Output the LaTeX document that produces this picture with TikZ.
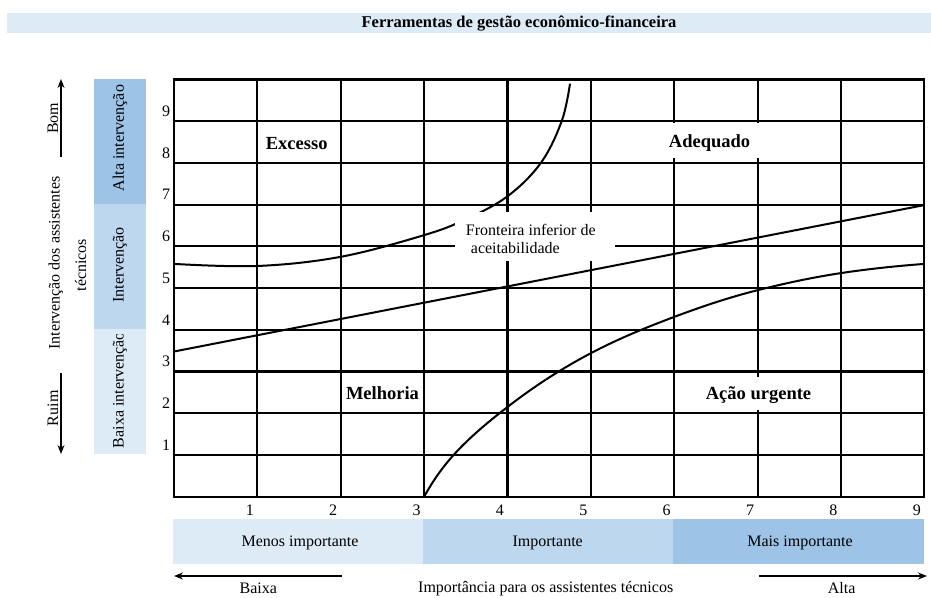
\documentclass[tikz,border=0pt]{standalone}
\usepackage{fontspec}
\setmainfont{Liberation Serif}
\usetikzlibrary{arrows.meta}
\definecolor{blueA}{HTML}{DDEBF7}
\definecolor{blueB}{HTML}{BDD7EE}
\definecolor{blueC}{HTML}{9DC3E6}
\begin{document}
\begin{tikzpicture}[x=1pt,y=-1pt,
  txt/.style={font=\fontsize{16}{19}\selectfont, inner sep=0pt},
  lbl/.style={font=\fontsize{18.5}{22}\selectfont\bfseries, inner sep=0pt},
  gridline/.style={line width=2.1pt},
  curveline/.style={line width=2pt},
  arr/.style={line width=1.1pt, -{Stealth[length=9pt,width=7pt]}}]
\useasboundingbox (0,0) rectangle (931,597);
% title
\fill[blueA] (7,13) rectangle (931,33);
\node[txt, font=\fontsize{16.5}{19}\selectfont\bfseries] (title) at (519,23.5) {Ferramentas de gestão econômico-financeira};
% grid
\foreach \i in {1,...,8} \draw[gridline] ({174+83.37*\i},79.5) -- ({174+83.37*\i},496.7);
\foreach \j in {1,...,9} \draw[gridline] (174,{79.5+41.72*\j}) -- (924.3,{79.5+41.72*\j});
\draw[gridline, line join=miter] (174,79.5) rectangle (924.3,496.7);
% curves
\begin{scope}[shift={(174,496.7)}, x=83.37pt, y=41.72pt]
  \draw[curveline] plot[smooth, tension=0.6] coordinates {(0,5.58) (1,5.53) (2,5.75) (3,6.27) (3.5,6.65) (4,7.2) (4.4,8.0) (4.65,9.0) (4.75,9.9)};
  \draw[curveline] (0,3.48) -- (9,6.99);
  \draw[curveline] (3,0) .. controls (3.133,0.48) and (3.267,0.82) .. (3.4,1.1)
    .. controls (3.6,1.52) and (3.8,1.84) .. (4,2.15)
    .. controls (4.333,2.667) and (4.667,3.09) .. (5,3.44)
    .. controls (5.333,3.79) and (5.667,4.06) .. (6,4.31)
    .. controls (6.333,4.56) and (6.667,4.783) .. (7,4.95)
    .. controls (7.333,5.117) and (7.667,5.26) .. (8,5.36)
    .. controls (8.333,5.46) and (8.667,5.53) .. (9,5.58);
\end{scope}
% white label boxes
\fill[white] (455,212) rectangle (615,261);
\fill[white] (664,123) rectangle (764,158);
\fill[white] (700,377) rectangle (816,410);
\node[txt, anchor=west] (front1) at (465.7,230) {Fronteira inferior de};
\node[txt, anchor=west] (front2) at (470.7,248.3) {aceitabilidade};
\node[lbl] (excesso) at (296.7,143.3) {Excesso};
\node[lbl] (adequado) at (709.5,143.3) {Adequado};
\node[lbl] (melhoria) at (382.5,392.7) {Melhoria};
\node[lbl] (acao) at (758.5,395) {Ação urgente};
% axis numbers
\foreach \k in {1,...,9} {
  \node[txt] (y\k) at (166,{496.7-41.72*\k-10}) {\k};
  \node[txt] (x\k) at ({174+83.37*\k-7.5},510) {\k};
}
% left bars
\fill[blueC] (94.3,79) rectangle (145.7,204);
\fill[blueB] (94.3,204) rectangle (145.7,329);
\fill[blueA] (94.3,329) rectangle (145.7,454);
\node[txt, rotate=90] (alta) at (120,138) {Alta intervenção};
\node[txt, rotate=90] (interv) at (120,265) {Intervenção};
\begin{scope}
  \clip (94.3,334) rectangle (145.7,454);
  \node[txt, rotate=90, anchor=west] (baixaint) at (120,448.3) {Baixa intervenção};
\end{scope}
% far left axis
\coordinate (bomtop) at (61,79);
\coordinate (bombot) at (61,157);
\coordinate (ruimtop) at (61,373);
\coordinate (ruimbot) at (61,454);
\draw[arr] (bombot) -- (bomtop);
\draw[arr] (ruimtop) -- (ruimbot);
\node[txt, rotate=90, anchor=base] (bom) at (58,118.3) {Bom};
\node[txt, rotate=90, anchor=base] (ruim) at (58,408.3) {Ruim};
\node[txt, rotate=90, anchor=base] (ylab1) at (59.5,263) {Intervenção dos assistentes};
\node[txt, rotate=90, anchor=base] (ylab2) at (86,265) {técnicos};
% bottom bars
\fill[blueA] (172.7,519) rectangle (422.7,564);
\fill[blueB] (422.7,519) rectangle (672.7,564);
\fill[blueC] (672.7,519) rectangle (924.3,564);
\node[txt] (menos) at (300,542.7) {Menos importante};
\node[txt] (imp) at (547.7,542.7) {Importante};
\node[txt] (mais) at (800,542.7) {Mais importante};
% bottom axis
\coordinate (baixaR) at (341.7,576);
\coordinate (baixaL) at (174,576);
\coordinate (altaL) at (759.3,576);
\coordinate (altaR) at (927,576);
\draw[arr] (baixaR) -- (baixaL);
\draw[arr] (altaL) -- (altaR);
\node[txt] (baixa) at (258.3,588.5) {Baixa};
\node[txt] (altaT) at (841.7,588.5) {Alta};
\node[txt, anchor=west] (xlab) at (418,588.5) {Importância para os assistentes técnicos};
\end{tikzpicture}
\end{document}
